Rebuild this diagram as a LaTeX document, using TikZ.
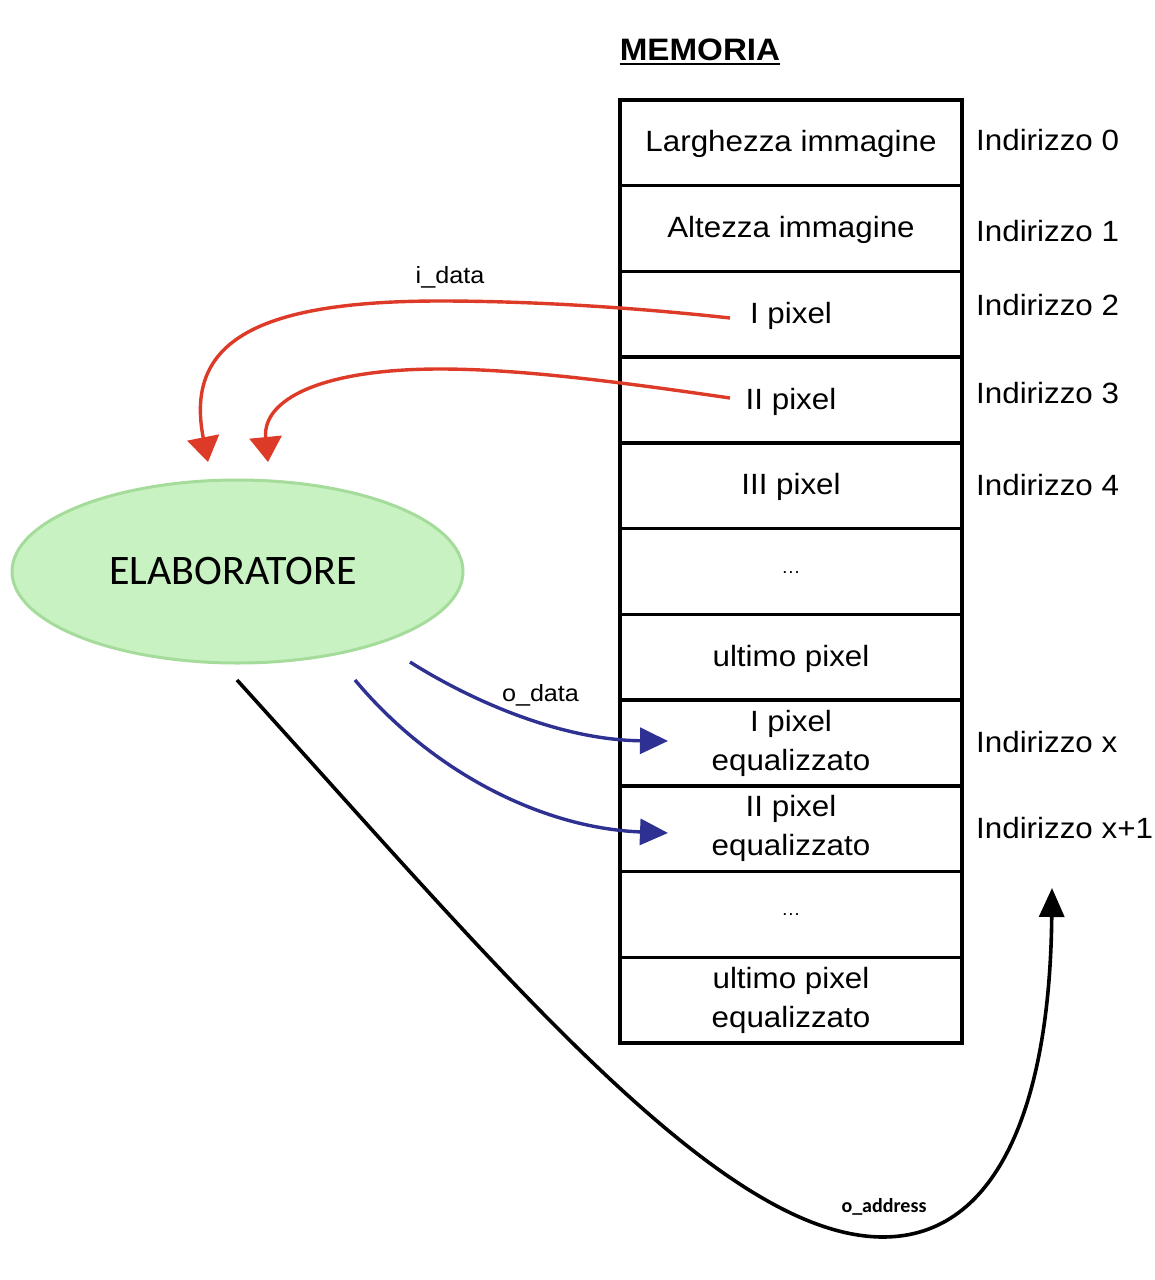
\documentclass[tikz,border=0pt]{standalone}
\usepackage{fontspec}
\setmainfont{Liberation Sans}[FakeStretch=1.07]
\newfontfamily\calfont{Carlito}
\usetikzlibrary{arrows.meta,shapes.geometric}
\definecolor{redc}{RGB}{222,58,40}
\definecolor{bluec}{RGB}{46,49,146}
\definecolor{greenfill}{RGB}{200,242,194}
\definecolor{greenline}{RGB}{165,220,156}
\begin{document}
\begin{tikzpicture}[x=1pt,y=-1pt,
  cell/.style={draw, line width=3.5pt, minimum width=342pt, minimum height=85.73pt, inner sep=0pt, align=center, font=\fontsize{29.3}{39}\selectfont},
  one/.style={text height=22pt, text depth=4pt},
  addr/.style={anchor=base west, inner sep=0pt, font=\fontsize{29.3}{34}\selectfont},
  lab/.style={anchor=base, inner sep=0pt, font=\fontsize{23.5}{27}\selectfont},
  redarrow/.style={draw=redc, line width=3.4pt, -{Triangle[length=25pt,width=32pt]}},
  bluearrow/.style={draw=bluec, line width=3.4pt, -{Triangle[length=28pt,width=26pt]}},
  blackarrow/.style={draw=black, line width=3.6pt, -{Triangle[length=29pt,width=25pt]}}]
\useasboundingbox (0,0) rectangle (1155,1280);
\fill[white] (0,0) rectangle (1155,1280);

% title
\node[anchor=base, inner sep=0pt, font=\fontsize{31}{34}\selectfont\bfseries] (title) at (700,60) {MEMORIA};
\draw[line width=2.5pt] ([yshift=-4pt]title.base west) -- ([yshift=-4pt]title.base east);

% memory cells
\node[cell,one] (m1) at (791,142.86) {Larghezza immagine};
\node[cell,one] (m2) at (791,228.59) {Altezza immagine};
\node[cell,one] (m3) at (791,314.32) {I pixel};
\node[cell,one] (m4) at (791,400.05) {II pixel};
\node[cell,one] (m5) at (791,485.77) {III pixel};
\node[cell, text height=3pt, text depth=0pt, font=\fontsize{18}{20}\selectfont] (m6) at (791,571.5) {…};
\node[cell,one] (m7) at (791,657.23) {ultimo pixel};
\node[cell] (m8) at (791,742.95) {I pixel\\equalizzato};
\node[cell] (m9) at (791,828.68) {II pixel\\equalizzato};
\node[cell, text height=3pt, text depth=0pt, font=\fontsize{18}{20}\selectfont] (m10) at (791,914.41) {…};
\node[cell] (m11) at (791,1000.14) {ultimo pixel\\equalizzato};

% addresses
\node[addr] (a0) at (976,150) {Indirizzo 0};
\node[addr] (a1) at (976,241) {Indirizzo 1};
\node[addr] (a2) at (976,315) {Indirizzo 2};
\node[addr] (a3) at (976,403) {Indirizzo 3};
\node[addr] (a4) at (976,495) {Indirizzo 4};
\node[addr] (ax) at (976,752) {Indirizzo x};
\node[addr] (ax1) at (976,838) {Indirizzo x+1};

% processor
\node[ellipse, draw=greenline, fill=greenfill, line width=3pt, minimum width=451pt, minimum height=183pt, inner sep=0pt,
  font=\calfont\fontsize{42}{50}\selectfont] (elab) at (237.5,571.5) {ELABORATORE\hspace*{9pt}};

% labels
\node[lab] (idata) at (450,283) {i\_data};
\node[lab] (odata) at (540.5,701) {o\_data};
\node[anchor=base, inner sep=0pt, font=\calfont\bfseries\fontsize{20}{24}\selectfont] (oaddr) at (884,1212.7) {o\_address};

% connector end points
\coordinate (r1s) at (730,318);
\coordinate (r1e) at (208,462);
\coordinate (r2s) at (730,398);
\coordinate (r2e) at (268,462);
\coordinate (b1s) at (410,662);
\coordinate (b1e) at (668,741);
\coordinate (b2s) at (355,680);
\coordinate (b2e) at (668,833);
\coordinate (ks) at (237,680);
\coordinate (ke) at (1052,888);

% red arrows (i_data)
\draw[redarrow] (r1s) .. controls (620,306) and (520,301) .. (440,301)
  .. controls (250,301) and (185,345) .. (r1e);
\draw[redarrow] (r2s) .. controls (620,382) and (520,369) .. (440,369)
  .. controls (320,369) and (262,400) .. (r2e);

% blue arrows (o_data)
\draw[bluearrow] (b1s) .. controls (470,700) and (560,740) .. (b1e);
\draw[bluearrow] (b2s) .. controls (430,770) and (540,828) .. (b2e);

% black arrow (o_address)
\draw[blackarrow] (ks) .. controls (500,970) and (720,1237) .. (883,1237)
  .. controls (1000,1237) and (1050,1100) .. (ke);
\end{tikzpicture}
\end{document}
